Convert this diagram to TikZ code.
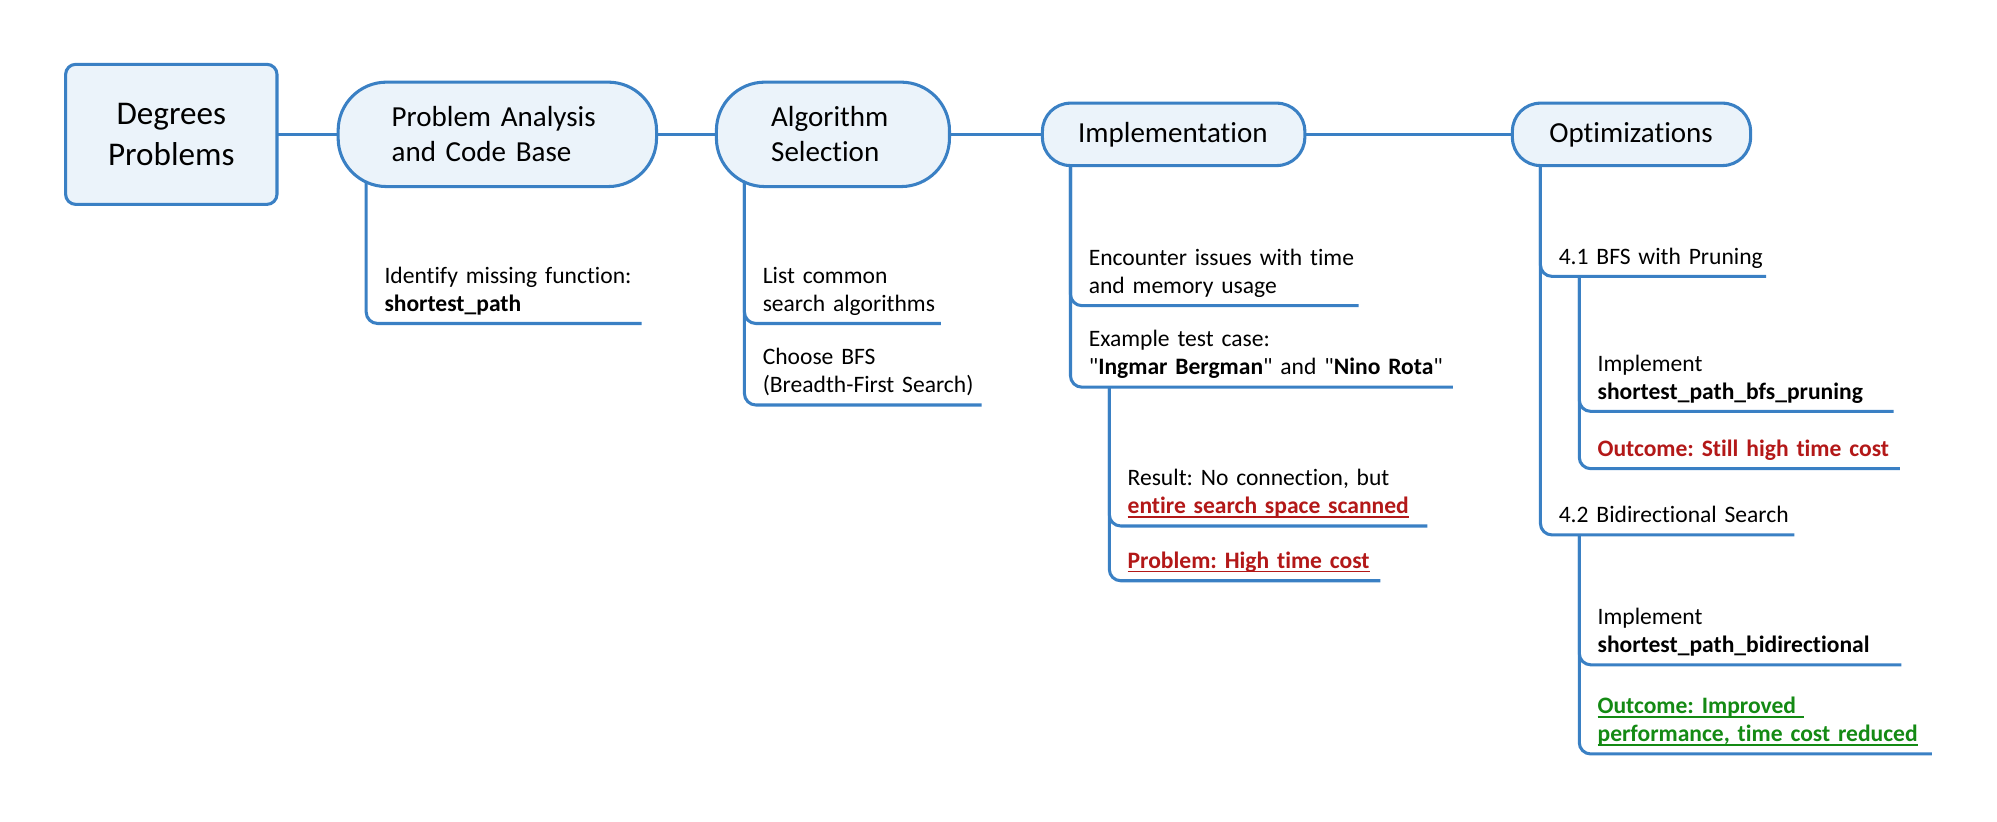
\documentclass[tikz,border=0pt]{standalone}
\usepackage{fontspec}
\setmainfont{Carlito}[Ligatures={TeXOff,CommonOff}]
\usetikzlibrary{calc,positioning,backgrounds}

\definecolor{mapblue}{HTML}{3A80C4}
\definecolor{mapfill}{HTML}{EBF3FA}
\definecolor{mapred}{HTML}{B31818}
\definecolor{mapgreen}{HTML}{148A14}

\newcommand\mapul[1]{\setbox0\hbox{#1}\rlap{\rule[-1.5pt]{\wd0}{0.55pt}}\box0}

\begin{document}
\frenchspacing
\begin{tikzpicture}[x=0.5pt,y=-0.5pt]

\tikzset{rootbox/.style={fill=mapfill,draw=mapblue,line width=1.2pt,rounded corners=4pt,outer sep=0pt,
  minimum width=83pt,minimum height=55pt,align=center,font=\fontsize{13}{16}\selectfont},
topic/.style={fill=mapfill,draw=mapblue,line width=1.2pt,rounded corners=#1,outer sep=0pt,
  align=left,font=\fontsize{11.4}{13.7}\selectfont},
topic/.default=19pt,
leaf/.style={anchor=south west,inner xsep=0pt,inner ysep=1.3pt,align=left,
  font=\fontsize{9.25}{11}\selectfont,execute at end node=\strut},
link/.style={draw=mapblue,line width=1.2pt},
branch/.style={draw=mapblue,line width=1.2pt,rounded corners=4.5pt}}

\useasboundingbox (0,0) rectangle (1568,645.2);

% Main topics
\node (root) [rootbox] at (134.5,105.5) {Degrees\\Problems};
\node (analysis) [topic,inner xsep=21pt,text width=83pt,minimum height=41pt,right=24pt of root] {Problem Analysis\\and Code Base};
\node (algo) [topic,inner xsep=21.5pt,text width=48.5pt,minimum height=41pt,right=23.5pt of analysis] {Algorithm\\Selection};
\node (impl) [topic=11pt,inner xsep=14pt,text width=75pt,minimum height=24.5pt,right=36.5pt of algo] {Implementation};
\node (opt) [topic=11pt,inner xsep=14.5pt,text width=64.5pt,minimum height=24.5pt,right=81.5pt of impl] {Optimizations};

% Spines below the topics
\coordinate (analysis-spine) at ($(analysis.west)+(22,0)$);
\coordinate (algo-spine) at ($(algo.west)+(22,0)$);
\coordinate (impl-spine) at ($(impl.west)+(22,0)$);
\coordinate (opt-spine) at ($(opt.west)+(22,0)$);

% Problem analysis
\node (analysis1) [leaf,text width=100.75pt] at (301.5,254) {Identify missing function:\\\textbf{shortest\_path}};

% Algorithm selection
\node (algo1) [leaf,text width=69.75pt] at (598.5,254) {List common\\search algorithms};
\node (algo2) [leaf,text width=85.75pt] at (598.5,318) {Choose BFS\\(Breadth-First Search)};

% Implementation
\node (impl1) [leaf,text width=105.75pt] at (854.5,240) {Encounter issues with time\\and memory usage};
\node (impl2) [leaf,text width=142.75pt] at (854.5,304) {Example test case:\\"\textbf{Ingmar Bergman}" and "\textbf{Nino Rota}"};
\coordinate (impl2-spine) at ($(impl2.south west)+(16.5,0)$);
\node (case1) [leaf,text width=117.5pt] at (885,413) {Result: No connection, but\\\textcolor{mapred}{\textbf{\mapul{entire search space scanned}}}};
\node (case2) [leaf,text width=99pt] at (885,456) {\textcolor{mapred}{\textbf{\mapul{Problem: High time cost}}}};

% Optimizations
\node (opt1) [leaf,text width=81.25pt] at (1223.5,217) {4.1 BFS with Pruning};
\node (opt2) [leaf,text width=92.25pt] at (1223.5,420) {4.2 Bidirectional Search};
\coordinate (opt1-spine) at ($(opt1.south west)+(16.5,0)$);
\coordinate (opt2-spine) at ($(opt2.south west)+(16.5,0)$);
\node (prune1) [leaf,text width=116pt] at (1254,323) {Implement\\\textbf{shortest\_path\_bfs\_pruning}};
\node (prune2) [leaf,text width=118.5pt] at (1254,368) {\textcolor{mapred}{\textbf{Outcome: Still high time cost}}};
\node (bidir1) [leaf,text width=119pt] at (1254,522) {Implement\\\textbf{shortest\_path\_bidirectional}};
\node (bidir2) [leaf,text width=131pt] at (1254,592) {\textcolor{mapgreen}{\textbf{\mapul{Outcome: Improved~}}}\\\textcolor{mapgreen}{\textbf{\mapul{performance, time cost reduced}}}};

\begin{scope}[on background layer]
% Links between topics
\draw[link] (root) -- (analysis);
\draw[link] (analysis) -- (algo);
\draw[link] (algo) -- (impl);
\draw[link] (impl) -- (opt);

% Branches to the leaves
\draw[branch] (analysis-spine) |- (analysis1.south east);
\draw[branch] (algo-spine) |- (algo1.south east);
\draw[branch] (algo-spine) |- (algo2.south east);
\draw[branch] (impl-spine) |- (impl1.south east);
\draw[branch] (impl-spine) |- (impl2.south east);
\draw[branch] (impl2-spine) |- (case1.south east);
\draw[branch] (impl2-spine) |- (case2.south east);
\draw[branch] (opt-spine) |- (opt1.south east);
\draw[branch] (opt-spine) |- (opt2.south east);
\draw[branch] (opt1-spine) |- (prune1.south east);
\draw[branch] (opt1-spine) |- (prune2.south east);
\draw[branch] (opt2-spine) |- (bidir1.south east);
\draw[branch] (opt2-spine) |- (bidir2.south east);
\end{scope}

\end{tikzpicture}
\end{document}
